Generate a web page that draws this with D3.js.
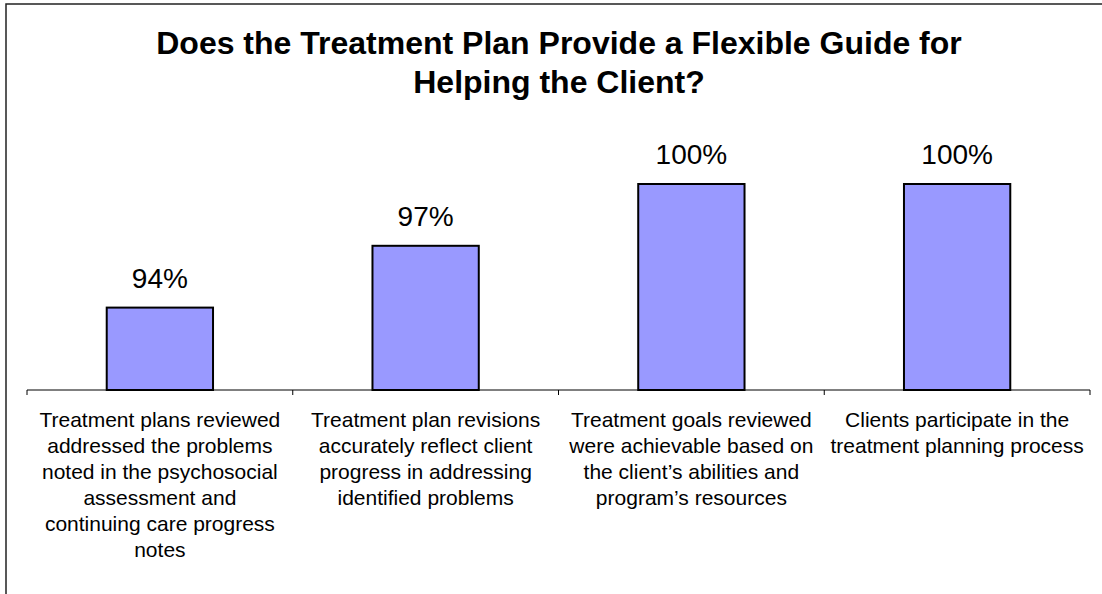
<!DOCTYPE html>
<html>
<head>
<meta charset="utf-8">
<script src="https://cdn.jsdelivr.net/npm/d3@7"></script>
<style>
  html, body { margin: 0; padding: 0; background: #fff; }
  svg { display: block; }
  text { font-family: "Liberation Sans", Arial, sans-serif; fill: #000; }
</style>
</head>
<body>
<svg id="chart" width="1102" height="594"></svg>
<script>
// Chart data
const titleLines = ["Does the Treatment Plan Provide a Flexible Guide for", "Helping the Client?"];
const categories = ["c1", "c2", "c3", "c4"];
const categoryLines = [
  ["Treatment plans reviewed", "addressed the problems", "noted in the psychosocial", "assessment and", "continuing care progress", "notes"],
  ["Treatment plan revisions", "accurately reflect client", "progress in addressing", "identified problems"],
  ["Treatment goals reviewed", "were achievable based on", "the client\u2019s abilities and", "program\u2019s resources"],
  ["Clients participate in the", "treatment planning process"]
];
const values = [94, 97, 100, 100];
const valueLabels = ["94%", "97%", "100%", "100%"];
const yDomain = [90, 100];

const svg = d3.select("#chart");

// Outer frame (left and top edges visible)
svg.append("rect")
  .attr("x", 6).attr("y", 4)
  .attr("width", 1200).attr("height", 700)
  .attr("fill", "none")
  .attr("stroke", "#222")
  .attr("stroke-width", 1.5);

// Title
svg.append("text")
  .attr("text-anchor", "middle")
  .attr("font-size", 32)
  .attr("font-weight", "bold")
  .selectAll("tspan")
  .data(titleLines)
  .join("tspan")
  .attr("x", 559)
  .attr("y", (d, i) => 54 + i * 39)
  .text(d => d);

// Scales
const x = d3.scaleBand().domain(categories).range([27, 1090]).paddingInner(0).paddingOuter(0);
const y = d3.scaleLinear().domain(yDomain).range([390, 184]);
const barW = x.bandwidth() * 0.4;

// Bars
svg.append("g")
  .selectAll("rect")
  .data(values)
  .join("rect")
  .attr("x", (d, i) => x(categories[i]) + (x.bandwidth() - barW) / 2)
  .attr("y", d => y(d))
  .attr("width", barW)
  .attr("height", d => y(yDomain[0]) - y(d))
  .attr("fill", "#9999FF")
  .attr("stroke", "#000")
  .attr("stroke-width", 2);

// Value labels
svg.append("g")
  .selectAll("text")
  .data(values)
  .join("text")
  .attr("x", (d, i) => x(categories[i]) + x.bandwidth() / 2)
  .attr("y", d => y(d) - 20)
  .attr("text-anchor", "middle")
  .attr("font-size", 28)
  .text((d, i) => valueLabels[i]);

// Category axis: baseline with tick marks at band boundaries
const axis = svg.append("g");
axis.append("line")
  .attr("x1", x.range()[0]).attr("x2", x.range()[1])
  .attr("y1", 390).attr("y2", 390)
  .attr("stroke", "#000").attr("stroke-width", 1);
const bounds = categories.map(c => x(c)).concat([x.range()[1]]);
axis.selectAll("line.tick")
  .data(bounds)
  .join("line")
  .attr("class", "tick")
  .attr("x1", d => d).attr("x2", d => d)
  .attr("y1", 390).attr("y2", 395)
  .attr("stroke", "#000").attr("stroke-width", 1);

// Category labels (multi-line)
const catG = svg.append("g");
categoryLines.forEach((lines, i) => {
  const t = catG.append("text")
    .attr("text-anchor", "middle")
    .attr("font-size", 21);
  t.selectAll("tspan")
    .data(lines)
    .join("tspan")
    .attr("x", x(categories[i]) + x.bandwidth() / 2)
    .attr("y", (d, j) => 427 + j * 26)
    .text(d => d);
});
</script>
</body>
</html>
